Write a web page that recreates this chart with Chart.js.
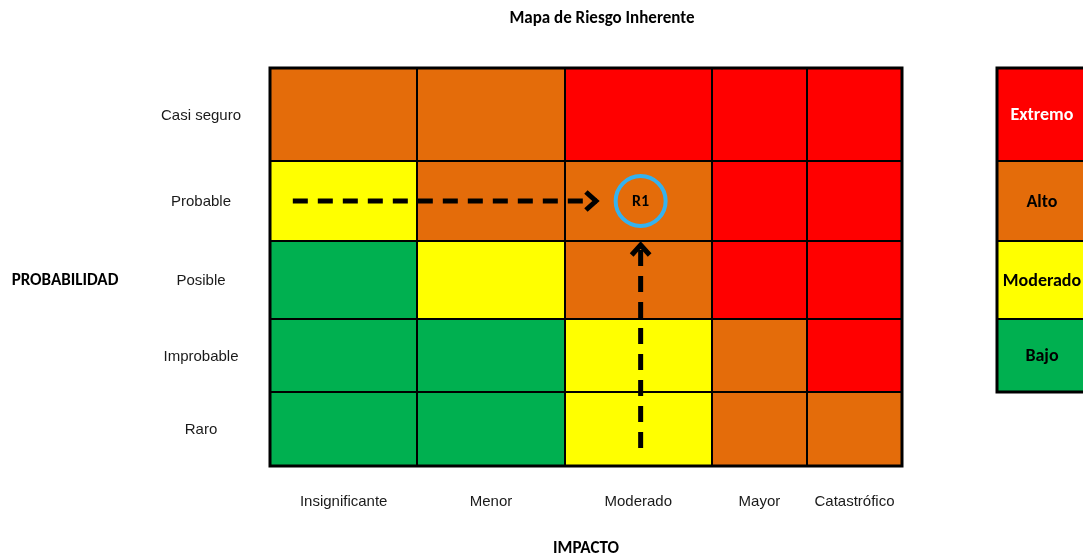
<!DOCTYPE html>
<html>
<head>
<meta charset="utf-8">
<script src="https://cdn.jsdelivr.net/npm/chart.js@4.4.1/dist/chart.umd.min.js"></script>
<style>
html,body{margin:0;padding:0;background:#fff;overflow:hidden;}
canvas{display:block;}
</style>
</head>
<body>
<canvas id="c" width="1083" height="559"></canvas>
<script>
// ---- data ----
const chartTitle = 'Mapa de Riesgo Inherente';
const impactLabels = ['Insignificante', 'Menor', 'Moderado', 'Mayor', 'Catastrófico'];
const probabilityLabels = ['Casi seguro', 'Probable', 'Posible', 'Improbable', 'Raro']; // top to bottom
const riskLevels = ['Extremo', 'Alto', 'Moderado', 'Bajo'];
const riskMatrix = [
  ['Alto', 'Alto', 'Extremo', 'Extremo', 'Extremo'],
  ['Moderado', 'Alto', 'Alto', 'Extremo', 'Extremo'],
  ['Bajo', 'Moderado', 'Alto', 'Extremo', 'Extremo'],
  ['Bajo', 'Bajo', 'Moderado', 'Alto', 'Extremo'],
  ['Bajo', 'Bajo', 'Moderado', 'Alto', 'Alto']
];
const riskPointLabel = 'R1';
const riskPoint = [{x: 3.9, y: 265}];
const arrowProbability = [{x: 0.24, y: 265}, {x: 3.44, y: 265}];
const arrowImpact = [{x: 3.9, y: 18}, {x: 3.9, y: 222}];
const xAxisTitle = 'IMPACTO';
const yAxisTitle = 'PROBABILIDAD';

// ---- layout (scale units) ----
const colEdges = [0, 1.55, 3.1, 4.65, 5.65, 6.65];
const rowEdges = [398, 305, 225, 147, 74, 0]; // top to bottom
const levelColors = {Extremo: '#FF0000', Alto: '#E46C0A', Moderado: '#FFFF00', Bajo: '#00B050'};
const levelText = {Extremo: '#FFFFFF', Alto: '#000000', Moderado: '#000000', Bajo: '#000000'};

const boldFont = 'Carlito, Lato, sans-serif';
const tickFont = '"Liberation Sans", Arial, sans-serif';

const gridPlugin = {
  id: 'riskGrid',
  beforeDatasetsDraw(chart) {
    const {ctx, scales: {x, y}} = chart;
    ctx.save();
    for (let r = 0; r < probabilityLabels.length; r++) {
      for (let c = 0; c < impactLabels.length; c++) {
        const x0 = x.getPixelForValue(colEdges[c]), x1 = x.getPixelForValue(colEdges[c + 1]);
        const y0 = y.getPixelForValue(rowEdges[r]), y1 = y.getPixelForValue(rowEdges[r + 1]);
        ctx.fillStyle = levelColors[riskMatrix[r][c]];
        ctx.fillRect(x0, y0, x1 - x0, y1 - y0);
      }
    }
    ctx.strokeStyle = '#000';
    ctx.lineWidth = 2;
    ctx.beginPath();
    for (let c = 1; c < colEdges.length - 1; c++) {
      const px = Math.round(x.getPixelForValue(colEdges[c]));
      ctx.moveTo(px, y.getPixelForValue(rowEdges[0]));
      ctx.lineTo(px, y.getPixelForValue(rowEdges[rowEdges.length - 1]));
    }
    for (let r = 1; r < rowEdges.length - 1; r++) {
      const py = Math.round(y.getPixelForValue(rowEdges[r]));
      ctx.moveTo(x.getPixelForValue(colEdges[0]), py);
      ctx.lineTo(x.getPixelForValue(colEdges[colEdges.length - 1]), py);
    }
    ctx.stroke();
    ctx.lineWidth = 3;
    const L = x.getPixelForValue(colEdges[0]), R = x.getPixelForValue(colEdges[colEdges.length - 1]);
    const T = y.getPixelForValue(rowEdges[0]), B = y.getPixelForValue(rowEdges[rowEdges.length - 1]);
    ctx.strokeRect(L, T, R - L, B - T);
    ctx.restore();
  },
  afterDatasetsDraw(chart) {
    const {ctx, scales: {x, y}} = chart;
    ctx.save();
    // arrowheads
    ctx.strokeStyle = '#000';
    ctx.lineWidth = 5;
    ctx.lineJoin = 'miter';
    ctx.lineCap = 'butt';
    const hp = arrowProbability[arrowProbability.length - 1];
    let tx = x.getPixelForValue(hp.x), ty = y.getPixelForValue(hp.y);
    ctx.beginPath();
    ctx.moveTo(tx - 11, ty - 9); ctx.lineTo(tx - 1, ty); ctx.lineTo(tx - 11, ty + 9);
    ctx.stroke();
    const vp = arrowImpact[arrowImpact.length - 1];
    tx = x.getPixelForValue(vp.x); ty = y.getPixelForValue(vp.y);
    ctx.beginPath();
    ctx.moveTo(tx - 9, ty + 11); ctx.lineTo(tx, ty + 1); ctx.lineTo(tx + 9, ty + 11);
    ctx.stroke();
    // R1 label
    const p = riskPoint[0];
    ctx.fillStyle = '#000';
    ctx.font = 'bold 16px ' + boldFont;
    ctx.textAlign = 'center';
    ctx.textBaseline = 'middle';
    ctx.fillText(riskPointLabel, x.getPixelForValue(p.x), y.getPixelForValue(p.y) + 1);
    ctx.restore();
  },
  afterDraw(chart) {
    const {ctx, scales: {x, y}} = chart;
    ctx.save();
    ctx.textBaseline = 'middle';
    ctx.textAlign = 'center';
    // title
    ctx.fillStyle = '#000';
    ctx.font = 'bold 17px ' + boldFont;
    ctx.fillText(chartTitle, 602, 19);
    // row labels
    ctx.font = '15px ' + tickFont;
    ctx.fillStyle = '#1a1a1a';
    probabilityLabels.forEach((lab, r) => {
      const cy = (y.getPixelForValue(rowEdges[r]) + y.getPixelForValue(rowEdges[r + 1])) / 2;
      ctx.fillText(lab, 201, cy + 1);
    });
    impactLabels.forEach((lab, c) => {
      const cx = (x.getPixelForValue(colEdges[c]) + x.getPixelForValue(colEdges[c + 1])) / 2;
      ctx.fillText(lab, cx, 502);
    });
    // axis titles
    ctx.fillStyle = '#000';
    ctx.font = 'bold 17px ' + boldFont;
    ctx.fillText(yAxisTitle, 65, 281);
    ctx.fillText(xAxisTitle, 586, 549);
    // legend box
    const lx0 = 997, lx1 = 1092;
    ctx.font = 'bold 18px ' + boldFont;
    riskLevels.forEach((lev, i) => {
      const y0 = y.getPixelForValue(rowEdges[i]), y1 = y.getPixelForValue(rowEdges[i + 1]);
      ctx.fillStyle = levelColors[lev];
      ctx.fillRect(lx0, y0, lx1 - lx0, y1 - y0);
      ctx.fillStyle = levelText[lev];
      ctx.fillText(lev, 1042, (y0 + y1) / 2 + 1);
    });
    ctx.strokeStyle = '#000';
    ctx.lineWidth = 2;
    ctx.beginPath();
    for (let i = 1; i < riskLevels.length; i++) {
      const py = Math.round(y.getPixelForValue(rowEdges[i]));
      ctx.moveTo(lx0, py); ctx.lineTo(lx1, py);
    }
    ctx.stroke();
    ctx.lineWidth = 3;
    const lT = y.getPixelForValue(rowEdges[0]), lB = y.getPixelForValue(rowEdges[riskLevels.length]);
    ctx.strokeRect(lx0, lT, lx1 - lx0, lB - lT);
    ctx.restore();
  }
};

new Chart(document.getElementById('c'), {
  type: 'scatter',
  data: {
    datasets: [
      {label: 'Probabilidad', data: arrowProbability, showLine: true, borderColor: '#000', borderWidth: 5,
       borderDash: [15, 10], pointRadius: 0, borderCapStyle: 'butt', fill: false},
      {label: 'Impacto', data: arrowImpact, showLine: true, borderColor: '#000', borderWidth: 5,
       borderDash: [16, 10], pointRadius: 0, borderCapStyle: 'butt', fill: false},
      {label: riskPointLabel, data: riskPoint, pointRadius: 25, pointBorderWidth: 4,
       pointBorderColor: '#35B2EE', pointBackgroundColor: 'rgba(0,0,0,0)', pointHoverRadius: 25}
    ]
  },
  options: {
    responsive: false,
    animation: false,
    events: [],
    layout: {padding: {left: 270, right: 181, top: 68, bottom: 93}},
    plugins: {legend: {display: false}, tooltip: {enabled: false}, title: {display: false}},
    scales: {
      x: {type: 'linear', min: 0, max: 6.65, display: false},
      y: {type: 'linear', min: 0, max: 398, display: false}
    }
  },
  plugins: [gridPlugin]
});
</script>
</body>
</html>
